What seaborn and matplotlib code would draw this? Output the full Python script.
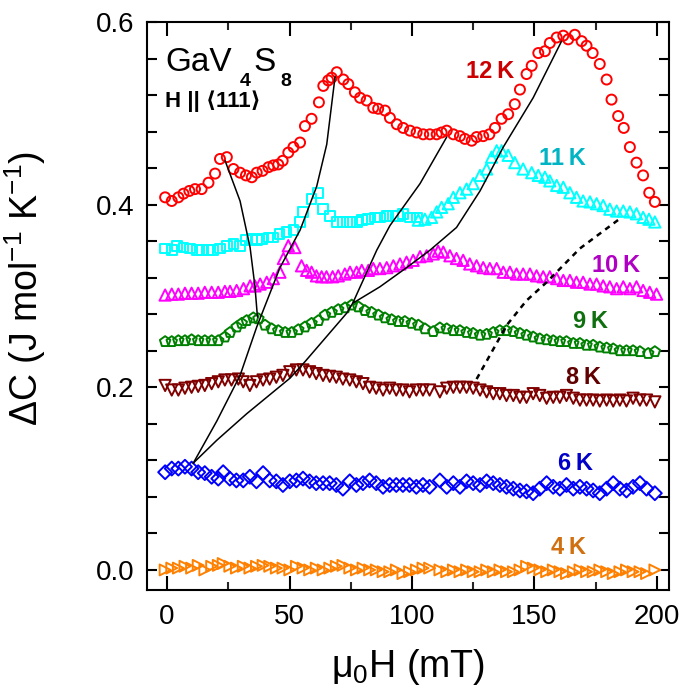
import matplotlib
matplotlib.use("Agg")
import matplotlib.pyplot as plt
import seaborn as sns
import pandas as pd

# ---------------- data ----------------
h12 = [-0.8, 1.9, 4.6, 6.7, 9.1, 11.4, 14.1, 16.9, 19.6, 21.6, 24.4, 27.1, 29.8, 32.2, 34.6, 36.6,
       39.0, 41.4, 43.4, 45.4, 47.2, 49.5, 51.6, 54.3, 56.3, 59.0, 62.0, 63.8, 65.8, 67.2, 69.3,
       72.0, 74.0, 76.7, 78.8, 81.5, 84.2, 86.2, 89.0, 91.0, 93.8, 96.4, 99.2, 101.9, 104.6,
       107.3, 110.1, 112.1, 114.2, 116.9, 119.6, 121.6, 124.4, 126.4, 129.1, 131.6, 133.9,
       136.6, 139.3, 142.0, 144.1, 146.8, 148.9, 151.6, 154.3, 156.3, 159.1, 161.8, 163.8,
       166.5, 169.3, 171.3, 173.8, 176.7, 179.5, 181.5, 184.2, 186.5, 189.0, 191.7, 194.4,
       196.9, 199.2]
c12 = [0.408, 0.404, 0.408, 0.412, 0.415, 0.417, 0.417, 0.424, 0.434, 0.450, 0.452, 0.439, 0.435,
       0.432, 0.430, 0.435, 0.437, 0.441, 0.443, 0.444, 0.448, 0.457, 0.463, 0.468, 0.486, 0.494,
       0.512, 0.530, 0.536, 0.539, 0.545, 0.537, 0.532, 0.523, 0.517, 0.514, 0.506, 0.505, 0.503,
       0.495, 0.488, 0.484, 0.481, 0.479, 0.477, 0.477, 0.477, 0.479, 0.481, 0.477, 0.475, 0.472,
       0.470, 0.474, 0.475, 0.477, 0.484, 0.494, 0.499, 0.510, 0.526, 0.543, 0.552, 0.566, 0.568,
       0.577, 0.583, 0.585, 0.581, 0.586, 0.579, 0.574, 0.566, 0.554, 0.537, 0.515, 0.497, 0.484,
       0.463, 0.446, 0.432, 0.413, 0.403]

h11_sq = [-0.8, 1.9, 3.9, 6.7, 9.4, 12.1, 14.1, 16.9, 18.9, 21.6, 24.4, 27.1, 29.8, 32.2, 34.6,
          36.6, 38.6, 41.4, 43.4, 45.9, 48.8, 51.6, 54.3, 55.6, 59.0, 61.7, 63.8, 66.5, 69.3, 72.0,
          74.7, 77.5, 79.5, 82.2, 84.9, 86.9, 89.6, 92.4, 94.4, 96.4, 99.2, 101.9]
c11_sq = [0.352, 0.350, 0.355, 0.353, 0.352, 0.350, 0.350, 0.350, 0.350, 0.352, 0.355, 0.357,
          0.355, 0.361, 0.362, 0.361, 0.362, 0.364, 0.364, 0.368, 0.370, 0.372, 0.381, 0.392,
          0.406, 0.413, 0.395, 0.388, 0.381, 0.381, 0.381, 0.381, 0.383, 0.384, 0.386, 0.386,
          0.388, 0.388, 0.388, 0.390, 0.386, 0.386]
h11_tri = [102.6, 105.3, 108.0, 110.1, 112.1, 114.8, 116.9, 119.6, 122.3, 125.0, 127.8, 130.5,
           132.5, 134.6, 136.6, 139.3, 142.0, 145.4, 148.9, 151.6, 154.3, 156.3, 159.1, 161.8,
           164.5, 167.2, 169.9, 172.7, 175.4, 178.1, 180.8, 183.6, 186.3, 189.0, 191.7, 194.4,
           196.8, 199.2]
c11_tri = [0.383, 0.384, 0.386, 0.392, 0.397, 0.401, 0.408, 0.413, 0.417, 0.423, 0.432, 0.439,
           0.452, 0.459, 0.459, 0.454, 0.446, 0.439, 0.435, 0.432, 0.430, 0.426, 0.421, 0.419,
           0.413, 0.408, 0.404, 0.403, 0.401, 0.399, 0.395, 0.393, 0.393, 0.392, 0.390, 0.386,
           0.384, 0.381]

h10 = [-0.8, 1.9, 4.6, 7.3, 10.0, 12.7, 15.4, 18.2, 20.9, 23.6, 25.7, 28.4, 31.2, 33.9, 35.9,
       38.0, 40.7, 43.4, 46.1, 47.5, 49.5, 52.2, 54.9, 57.0, 59.0, 61.0, 63.1, 65.1, 67.6, 69.9,
       72.6, 74.7, 77.4, 79.5, 82.2, 84.2, 86.9, 89.7, 92.4, 95.1, 97.8, 100.5, 103.3, 106.0,
       108.7, 110.7, 112.8, 115.5, 118.2, 120.9, 123.6, 126.4, 129.1, 131.8, 134.6, 137.3,
       140.0, 142.7, 145.4, 148.2, 150.9, 153.6, 156.3, 159.1, 161.8, 164.5, 167.2, 169.9,
       172.7, 175.4, 178.1, 180.8, 183.6, 186.3, 189.0, 191.7, 194.4, 197.1, 199.9]
c10 = [0.301, 0.302, 0.302, 0.303, 0.303, 0.303, 0.304, 0.304, 0.304, 0.305, 0.305, 0.306, 0.308,
       0.311, 0.311, 0.313, 0.315, 0.319, 0.326, 0.341, 0.355, 0.353, 0.333, 0.328, 0.326, 0.322,
       0.321, 0.321, 0.321, 0.322, 0.324, 0.326, 0.326, 0.328, 0.328, 0.330, 0.330, 0.331, 0.333,
       0.335, 0.337, 0.339, 0.343, 0.344, 0.346, 0.349, 0.348, 0.344, 0.341, 0.339, 0.335, 0.333,
       0.331, 0.330, 0.330, 0.326, 0.326, 0.324, 0.324, 0.324, 0.322, 0.321, 0.321, 0.319, 0.317,
       0.317, 0.315, 0.315, 0.313, 0.313, 0.311, 0.310, 0.308, 0.310, 0.308, 0.310, 0.306, 0.304,
       0.302]

h9 = [-0.8, 1.9, 4.6, 7.3, 10.0, 12.7, 15.4, 18.2, 20.9, 23.6, 25.7, 28.4, 30.5, 32.5, 35.2,
      37.3, 40.0, 42.7, 45.4, 48.2, 50.9, 53.6, 56.3, 59.0, 61.8, 64.5, 67.2, 69.9, 72.7, 75.4,
      78.1, 80.8, 83.5, 86.3, 89.0, 91.7, 94.4, 97.1, 99.9, 102.6, 105.3, 108.7, 111.4, 114.2,
      116.9, 119.6, 122.3, 125.0, 127.8, 130.5, 133.2, 135.9, 138.6, 141.4, 144.1, 146.8, 149.5,
      152.2, 155.0, 157.7, 160.4, 163.1, 165.9, 168.6, 171.3, 174.0, 176.7, 179.5, 182.2, 184.9,
      187.6, 190.3, 193.1, 196.5, 199.2]
c9 = [0.250, 0.250, 0.251, 0.251, 0.252, 0.251, 0.251, 0.251, 0.251, 0.255, 0.260, 0.266, 0.270,
      0.273, 0.276, 0.275, 0.268, 0.264, 0.262, 0.260, 0.260, 0.263, 0.266, 0.270, 0.273, 0.279,
      0.282, 0.285, 0.287, 0.290, 0.288, 0.284, 0.282, 0.279, 0.276, 0.274, 0.272, 0.272, 0.270,
      0.268, 0.264, 0.261, 0.265, 0.264, 0.262, 0.262, 0.260, 0.259, 0.257, 0.258, 0.260, 0.262,
      0.262, 0.261, 0.259, 0.257, 0.255, 0.253, 0.252, 0.251, 0.250, 0.250, 0.248, 0.248, 0.246,
      0.246, 0.244, 0.243, 0.242, 0.240, 0.240, 0.240, 0.239, 0.237, 0.239]

h8 = [-0.8, 1.9, 4.6, 7.3, 10.0, 12.7, 15.4, 18.2, 20.9, 23.6, 26.3, 29.1, 31.1, 33.8, 36.5,
      39.2, 41.9, 44.6, 47.3, 50.1, 52.8, 55.5, 58.2, 60.9, 63.7, 66.4, 69.1, 71.8, 74.6, 77.3,
      80.0, 82.7, 85.4, 88.2, 90.9, 93.6, 96.3, 99.0, 101.8, 104.5, 107.2, 111.4, 114.2, 116.9,
      119.6, 122.3, 125.0, 127.8, 130.5, 133.2, 135.9, 138.6, 141.4, 144.1, 146.8, 149.5, 152.2,
      155.0, 157.7, 160.4, 163.1, 165.9, 168.6, 171.3, 174.0, 176.7, 179.5, 182.2, 184.9, 187.6,
      190.3, 193.1, 195.8, 199.2]
c8 = [0.202, 0.197, 0.197, 0.199, 0.200, 0.201, 0.202, 0.204, 0.206, 0.208, 0.208, 0.209, 0.206,
      0.202, 0.206, 0.208, 0.209, 0.211, 0.213, 0.217, 0.219, 0.219, 0.217, 0.215, 0.213, 0.212,
      0.211, 0.209, 0.208, 0.206, 0.204, 0.200, 0.199, 0.197, 0.199, 0.197, 0.197, 0.195, 0.197,
      0.197, 0.197, 0.195, 0.199, 0.200, 0.200, 0.200, 0.199, 0.197, 0.195, 0.193, 0.193, 0.191,
      0.191, 0.189, 0.189, 0.193, 0.191, 0.188, 0.189, 0.189, 0.191, 0.188, 0.186, 0.186, 0.186,
      0.185, 0.186, 0.185, 0.186, 0.185, 0.188, 0.186, 0.186, 0.184]

h_low = [-0.8, 1.9, 4.6, 7.3, 10.0, 12.7, 15.4, 18.2, 20.9, 22.9, 25.6, 28.3, 31.1, 33.8, 36.5,
         39.2, 41.9, 44.6, 47.3, 50.1, 52.8, 55.5, 58.2, 60.9, 63.7, 66.4, 69.1, 71.8, 74.6, 77.3,
         80.0, 82.7, 85.4, 88.2, 90.9, 93.6, 96.3, 99.0, 101.8, 104.5, 107.2, 111.4, 114.2, 116.9,
         119.6, 122.3, 125.0, 127.8, 130.5, 133.2, 135.9, 138.6, 141.4, 144.1, 146.8, 149.5,
         152.2, 155.0, 157.7, 160.4, 163.1, 165.9, 168.6, 171.3, 174.0, 176.7, 179.5, 182.2,
         184.9, 187.6, 190.3, 193.1, 195.8, 199.2]
c6 = [0.107, 0.111, 0.111, 0.113, 0.111, 0.107, 0.106, 0.102, 0.100, 0.107, 0.100, 0.098, 0.098,
      0.102, 0.097, 0.106, 0.098, 0.097, 0.093, 0.097, 0.098, 0.100, 0.097, 0.095, 0.095, 0.095,
      0.093, 0.089, 0.097, 0.093, 0.095, 0.098, 0.095, 0.091, 0.093, 0.093, 0.093, 0.093, 0.091,
      0.093, 0.091, 0.098, 0.091, 0.095, 0.091, 0.097, 0.095, 0.093, 0.097, 0.095, 0.093, 0.091,
      0.089, 0.087, 0.086, 0.084, 0.089, 0.095, 0.091, 0.089, 0.093, 0.089, 0.091, 0.089, 0.087,
      0.084, 0.089, 0.095, 0.089, 0.087, 0.091, 0.095, 0.089, 0.084]
c4 = [0.000, 0.002, 0.002, 0.004, 0.002, 0.005, 0.000, 0.004, 0.005, 0.007, 0.004, 0.002, 0.004,
      0.002, 0.004, 0.005, 0.004, 0.002, 0.002, 0.000, 0.004, 0.002, 0.000, 0.002, 0.000, 0.002,
      0.004, 0.005, 0.002, 0.000, 0.002, 0.000, 0.000, -0.002, -0.002, 0.000, -0.004, -0.002,
      0.000, 0.002, 0.002, 0.000, -0.002, 0.000, -0.002, 0.000, -0.002, -0.002, 0.000, -0.002,
      0.000, -0.002, -0.002, 0.000, 0.004, 0.002, 0.000, -0.002, 0.000, -0.002, -0.004, -0.002,
      0.000, -0.002, -0.002, 0.000, -0.002, -0.004, -0.002, 0.000, -0.002, -0.002, -0.004, 0.000]

# guide lines through the anomalies
g1_h = [23.7, 29.8, 33.9, 35.9, 36.9]
g1_c = [0.448, 0.404, 0.353, 0.310, 0.277]
g2_h = [10.7, 20.3, 29.8, 36.6, 46.1, 54.3, 61.1, 65.2, 68.6]
g2_c = [0.117, 0.163, 0.213, 0.266, 0.331, 0.372, 0.420, 0.466, 0.540]
g3_h = [10.7, 20.3, 32.5, 50.2, 56.3, 73.3, 75.8, 85.6, 91.0, 103.3, 114.2]
g3_c = [0.117, 0.142, 0.171, 0.210, 0.228, 0.281, 0.292, 0.350, 0.377, 0.423, 0.474]
g4_h = [75.8, 86.9, 97.8, 107.3, 118.2, 127.8, 137.3, 149.5, 161.1]
g4_c = [0.292, 0.310, 0.331, 0.350, 0.375, 0.415, 0.463, 0.517, 0.579]
gd_h = [126.4, 138.7, 146.8, 155.0, 168.6, 185.6]
gd_c = [0.209, 0.268, 0.295, 0.315, 0.352, 0.386]

temps = ["12\u2009K", "11\u2009K", "10\u2009K", "9\u2009K", "8\u2009K", "6\u2009K", "4\u2009K"]
label_h = [132.1, 161.6, 183.3, 173.1, 170.2, 166.9, 164.1]
label_c = [0.546, 0.451, 0.333, 0.272, 0.211, 0.116, 0.025]
label_colors = ["#CC0000", "#00B4C4", "#B000C4", "#107010", "#600000", "#0000C8", "#D07010"]

xticks = [0, 50, 100, 150, 200]
yticks = [0.0, 0.2, 0.4, 0.6]
ytick_labels = ["0.0", "0.2", "0.4", "0.6"]

# ---------------- style ----------------
sns.set_theme(style="ticks")
plt.rcParams["font.family"] = ["Liberation Sans", "DejaVu Sans"]
plt.rcParams["mathtext.fontset"] = "custom"
plt.rcParams["mathtext.rm"] = "Liberation Sans"
plt.rcParams["mathtext.it"] = "Liberation Sans:italic"
plt.rcParams["mathtext.bf"] = "Liberation Sans:bold"

fig = plt.figure(figsize=(6.86, 6.98), dpi=100)
ax = fig.add_axes([0.2143, 0.1547, 0.761, 0.8138])

series = [
    (h_low, c4, ">", "#FF8000", 62),
    (h_low, c6, "D", "#0000FF", 50),
    (h8, c8, "v", "#800000", 66),
    (h9, c9, "p", "#008000", 62),
    (h10, c10, "^", "#FF00FF", 66),
    (h11_sq, c11_sq, "s", "#00FFFF", 50),
    (h11_tri, c11_tri, "^", "#00FFFF", 66),
    (h12, c12, "o", "#FF0000", 52),
]
for hx, cy, mk, col, sz in series:
    df = pd.DataFrame({"H": hx, "C": cy})
    sns.scatterplot(data=df, x="H", y="C", ax=ax, marker=mk, s=sz,
                    facecolor="none", edgecolor=col, linewidth=1.4, zorder=3)

for gh, gc in [(g1_h, g1_c), (g2_h, g2_c), (g3_h, g3_c), (g4_h, g4_c)]:
    ax.plot(gh, gc, color="black", lw=1.1, zorder=4)
ax.plot(gd_h, gd_c, color="black", lw=1.8, ls=(0, (2.2, 2.0)), zorder=4)

for t, lh, lc, col in zip(temps, label_h, label_c, label_colors):
    ax.text(lh, lc, t, color=col, fontsize=17, fontweight="bold", ha="center", va="center",
            zorder=5)

# sample name with bold, well-dropped subscripts
ax.text(-0.8, 0.546, "GaV", fontsize=24, ha="left", va="baseline", color="black")
ax.text(29.8, 0.530, "4", fontsize=14, fontweight="bold", ha="left", va="baseline",
        color="black")
ax.text(35.1, 0.546, "S", fontsize=24, ha="left", va="baseline", color="black")
ax.text(46.1, 0.530, "8", fontsize=14, fontweight="bold", ha="left", va="baseline",
        color="black")
ax.text(-0.8, 0.507, "H || \u27e8111\u27e9", fontsize=16, fontweight="bold", ha="left",
        va="baseline", color="black", family=["Liberation Sans", "DejaVu Sans"])

ax.set_xlim(-8.2, 205)
ax.set_ylim(-0.022, 0.599)
ax.set_xticks(xticks)
ax.set_xticks([25, 75, 125, 175], minor=True)
ax.set_yticks(yticks, labels=ytick_labels)
ax.set_yticks([0.04, 0.08, 0.12, 0.16, 0.24, 0.28, 0.32, 0.36, 0.44, 0.48, 0.52, 0.56],
              minor=True)

ax.tick_params(axis="x", which="major", direction="in", length=10, width=1.5, top=True,
               labelsize=20, pad=10, colors="black")
ax.tick_params(axis="x", which="minor", direction="in", length=6, width=1.5, top=True)
ax.tick_params(axis="y", which="both", direction="in", length=7, width=1.5, right=True,
               labelsize=20, pad=9, colors="black")
for sp in ax.spines.values():
    sp.set_linewidth(1.5)
    sp.set_color("black")
    sp.set_visible(True)

ax.set_xlabel("\u03bc$_0$H (mT)", fontsize=27, color="black")
ax.set_ylabel("\u0394C (J mol$^{-1}$ K$^{-1}$)", fontsize=27, color="black")
ax.xaxis.set_label_coords(0.5, -0.10)
ax.yaxis.set_label_coords(-0.19, 0.53)
ax.grid(False)

fig.savefig("out.png", dpi=100)
